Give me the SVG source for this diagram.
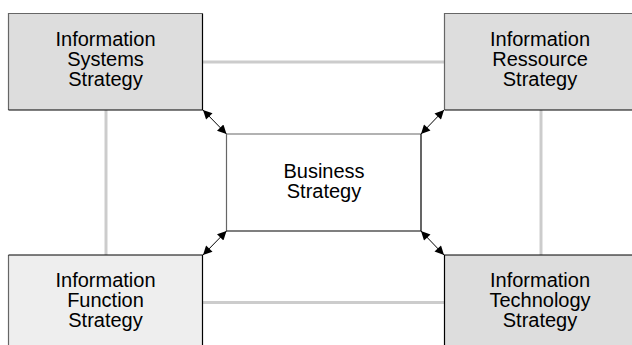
<svg xmlns="http://www.w3.org/2000/svg" width="632" height="345" viewBox="0 0 632 345">
<style>
.t{font-family:"Liberation Sans",Arial,sans-serif;font-size:20px;fill:#000;text-anchor:middle}
.hl{stroke:#666;stroke-width:1.2;fill:none}
.sh{stroke:#000;stroke-width:1.2;fill:none}
.gc{stroke:#cccccc;stroke-width:3;fill:none}
.ar{stroke:#000;stroke-width:1;fill:none;marker-start:url(#ah);marker-end:url(#ah)}
</style>
<defs>
<marker id="ah" viewBox="0 0 10 10" refX="10" refY="5" markerWidth="11" markerHeight="9" markerUnits="userSpaceOnUse" orient="auto-start-reverse">
<path d="M0,0 L10,5 L0,10 z" fill="#000"/>
</marker>
</defs>
<g id="connectors">
<line class="gc" x1="203" y1="62" x2="444" y2="62"/>
<line class="gc" x1="203" y1="302.5" x2="444" y2="302.5"/>
<line class="gc" x1="106" y1="110" x2="106" y2="255"/>
<line class="gc" x1="541" y1="110" x2="541" y2="255"/>
<line class="ar" x1="203" y1="110" x2="226.5" y2="134"/>
<line class="ar" x1="444" y1="110" x2="421" y2="134"/>
<line class="ar" x1="203" y1="255" x2="226.5" y2="231"/>
<line class="ar" x1="444" y1="255" x2="421" y2="231"/>
</g>
<g id="info-systems">
<rect x="8.5" y="13.5" width="194" height="96.5" fill="#dddddd"/>
<path class="hl" d="M8.5,110 V13.5 H202.5"/>
<path class="sh" d="M202.5,13.5 V110 H8.5"/>
<text class="t" x="105.5" y="46">Information</text>
<text class="t" x="105.5" y="66">Systems</text>
<text class="t" x="105.5" y="86">Strategy</text>
</g>
<g id="info-resource">
<rect x="444.5" y="13.5" width="194" height="96.5" fill="#dddddd"/>
<path class="hl" d="M444.5,110 V13.5 H638"/>
<path class="sh" d="M444.5,110 H638"/>
<text class="t" x="540" y="46">Information</text>
<text class="t" x="540" y="66">Ressource</text>
<text class="t" x="540" y="86">Strategy</text>
</g>
<g id="business">
<rect x="226.5" y="134" width="194.5" height="97" fill="#fff"/>
<path class="hl" d="M226.5,231 V134 H421"/>
<path class="sh" d="M421,134 V231 H226.5"/>
<text class="t" x="324" y="178">Business</text>
<text class="t" x="324" y="198">Strategy</text>
</g>
<g id="info-function">
<rect x="8.5" y="255" width="194" height="96" fill="#eeeeee"/>
<path class="hl" d="M8.5,351 V255"/>
<path class="sh" d="M8.5,255 H202.5 V351"/>
<text class="t" x="105.5" y="286.5">Information</text>
<text class="t" x="105.5" y="306.5">Function</text>
<text class="t" x="105.5" y="326.5">Strategy</text>
</g>
<g id="info-technology">
<rect x="444.5" y="255" width="194" height="96" fill="#dddddd"/>
<path class="sh" d="M444.5,351 V255 H638"/>
<text class="t" x="540" y="286.5">Information</text>
<text class="t" x="540" y="306.5">Technology</text>
<text class="t" x="540" y="326.5">Strategy</text>
</g>
</svg>
